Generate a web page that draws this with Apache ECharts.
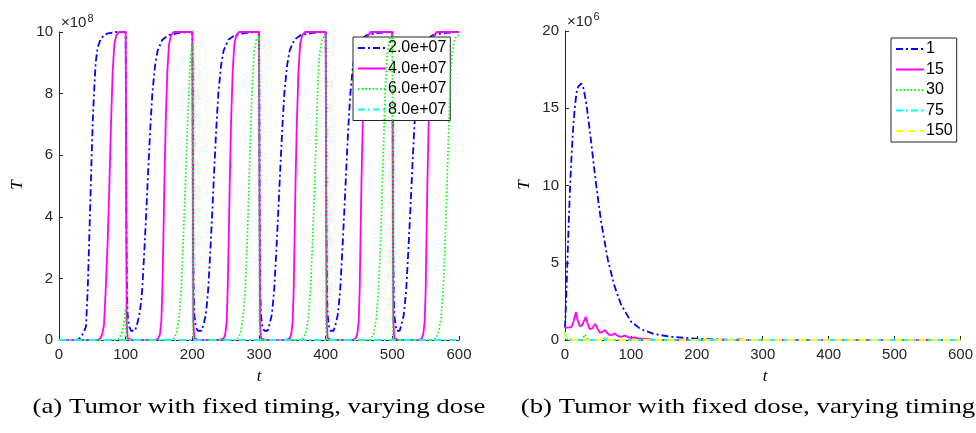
<!DOCTYPE html>
<html><head><meta charset="utf-8">
<script src="https://cdn.jsdelivr.net/npm/echarts@6/dist/echarts.min.js"></script>
<style>html,body{margin:0;padding:0;background:#fff}#c{width:976px;height:433px}</style>
</head><body><div id="c"></div><script>
// ---------- data ----------
const doseNames = ['2.0e+07', '4.0e+07', '6.0e+07', '8.0e+07'];
const timingNames = ['1', '15', '30', '75', '150'];
const xTicks = [0, 100, 200, 300, 400, 500, 600];
const yTicksA = [0, 2, 4, 6, 8, 10];
const yTicksB = [0, 5, 10, 15, 20];

// (a) T (x1e8) vs t, fixed timing, varying dose
const tumorDose2e7 = [
  [0,0],[25,0],[30,0.03],[34,0.12],[37,0.25],[40.5,0.43],[43,1.6],[45,3],[47,4.5],[49,6],[51,7.3],[53,8.2],[55,9.0],[58,9.5],[63,9.8],[72,9.95],[85,10],[100,10],
  [100.5,8],[101,4],[102,1.5],[103,0.8],[105,0.45],[108,0.3],[111,0.24],[114,0.3],[117,0.5],[120,0.76],[123,1.2],[125,1.7],[128,2.9],[131,4.2],[134,5.6],[137,6.9],[140,8.0],[144,8.9],[148,9.4],[155,9.75],[165,9.9],[180,9.97],[200,10],
  [200.5,8],[201,4],[202,1.5],[203,0.8],[205,0.45],[208,0.3],[211,0.24],[214,0.3],[217,0.52],[220,0.8],[222,1.2],[224,1.7],[227,2.9],[230,4.2],[233,5.6],[236,6.9],[239,8.0],[243,8.9],[247,9.4],[254,9.75],[264,9.9],[280,9.97],[300,10],
  [300.5,8],[301,4],[302,1.5],[303,0.8],[305,0.45],[308,0.3],[310,0.24],[313,0.3],[316,0.52],[319,0.8],[321,1.2],[323,1.7],[326,2.9],[329,4.2],[332,5.6],[335,6.9],[338,8.0],[342,8.9],[346,9.4],[353,9.75],[363,9.9],[380,9.97],[400,10],
  [400.5,8],[401,4],[402,1.5],[403,0.8],[405,0.45],[407,0.3],[409,0.24],[412,0.3],[415,0.52],[418,0.8],[420,1.2],[422,1.7],[425,2.9],[428,4.2],[431,5.6],[434,6.9],[437,8.0],[441,8.9],[445,9.4],[452,9.75],[462,9.9],[480,9.97],[500,10],
  [500.5,8],[501,4],[502,1.5],[503,0.8],[505,0.45],[507,0.3],[508,0.24],[511,0.3],[514,0.52],[517,0.8],[519,1.2],[521,1.7],[524,2.9],[527,4.2],[530,5.6],[533,6.9],[536,8.0],[540,8.9],[544,9.4],[551,9.75],[561,9.9],[580,9.97],[600,10]
];
const tumorDose4e7 = [
  [0,0],[58,0],[62,0.05],[65,0.2],[67.5,0.5],[70,1.6],[73,3.2],[75.5,5],[78,7],[80.5,8.7],[83,9.6],[86,9.9],[90,10],[100,10],[100.7,5],[101.5,0.6],[103,0.05],[110,0],
  [145,0],[149,0.05],[151.5,0.2],[153.5,0.6],[155,1.6],[156.5,3.2],[158,5],[160,7],[162.5,8.7],[165,9.6],[168,9.9],[172,10],[200,10],[200.7,5],[201.5,0.6],[203,0.05],[210,0],
  [240,0],[247,0.05],[249.5,0.2],[251.5,0.6],[253,1.6],[254.5,3.2],[256,5],[258,7],[260.5,8.7],[263,9.6],[266,9.9],[270,10],[300,10],[300.7,5],[301.5,0.6],[303,0.05],[310,0],
  [340,0],[346,0.05],[348.5,0.2],[350.5,0.6],[352,1.6],[353.3,3.2],[354.7,5],[356.7,7],[359.2,8.7],[361.7,9.6],[364.7,9.9],[369,10],[400,10],[400.7,5],[401.5,0.6],[403,0.05],[410,0],
  [440,0],[445,0.05],[447.5,0.2],[449.5,0.6],[451,1.6],[452.2,3.2],[453.6,5],[455.6,7],[458,8.7],[460.5,9.6],[463.5,9.9],[468,10],[500,10],[500.7,5],[501.5,0.6],[503,0.05],[510,0],
  [540,0],[544,0.05],[546.5,0.2],[548.5,0.6],[550,1.6],[551.2,3.2],[552.5,5],[554.5,7],[557,8.7],[559.5,9.6],[562.5,9.9],[567,10],[600,10]
];
const tumorDose6e7 = [
  [0,0],[88,0],[91,0.05],[94,0.2],[96.5,0.45],[98.5,0.75],[100,1.08],[100.8,0],
  [168,0],[172,0.05],[176,0.2],[180,0.7],[183.5,1.7],[186.5,3.3],[189.5,5],[192.5,6.8],[195.5,8.4],[198,9.3],[200,9.6],[200.8,0],
  [264,0],[268,0.05],[272,0.2],[276,0.7],[279.5,1.7],[282.5,3.3],[285,5],[287.5,6.8],[290,8.4],[292.5,9.3],[296,9.75],[300,9.85],[300.8,0],
  [362,0],[366,0.05],[370,0.2],[374,0.7],[377.5,1.7],[380.5,3.3],[383.5,5],[386,6.8],[388.5,8.4],[391,9.3],[395,9.8],[400,9.9],[400.8,0],
  [464,0],[468,0.05],[472,0.2],[476,0.7],[479.5,1.7],[482.5,3.3],[485,5],[487.5,6.8],[490,8.4],[492.5,9.3],[496,9.8],[500,9.9],[500.8,0],
  [561,0],[565,0.05],[569,0.2],[573,0.7],[576.5,1.7],[579.5,3.3],[582,5],[584.5,6.8],[587,8.4],[589.5,9.3],[594,9.8],[600,9.9]
];
const tumorDose8e7 = [[0,0],[600,0]];

// (b) T (x1e6) vs t, fixed dose, varying timing
const tumorTiming1 = [
  [0,0.8],[2,3],[4,5.5],[6,8],[8,10.2],[10,12],[12.5,13.8],[15,15.1],[17.5,16],[20,16.4],[25,16.6],[28,16.3],[32,15.4],[36,14.1],[40,12.7],[44,11.2],[48,9.8],[55,7.6],[65,5.2],[75,3.5],[85,2.3],[100,1.2],[115,0.7],[135,0.39],[160,0.21],[200,0.08],[240,0.025],[300,0.005],[600,0]
];
const tumorTiming15 = [
  [0,0.8],[5,0.8],[10,0.85],[13,1.2],[16.5,1.8],[19,1.3],[22.5,0.9],[26,0.95],[28.5,1.2],[31.5,1.5],[34,1.1],[37.5,0.7],[41,0.75],[43.5,0.9],[46,1.04],[49,0.75],[52.5,0.5],[56,0.5],[58.5,0.58],[61,0.65],[64,0.45],[67.5,0.32],[71,0.33],[76,0.43],[79,0.3],[82.5,0.22],[86,0.22],[91,0.28],[94,0.19],[97.5,0.15],[101,0.15],[106,0.17],[110,0.1],[121,0.07],[135,0.03],[160,0.01],[200,0],[600,0]
];
const tumorTiming30 = [
  [0,0.55],[1.5,0.25],[3,0.05],[5,0],[26,0],[28,0.1],[30,0.35],[31.5,0.43],[33,0.2],[35,0],[57,0],[59,0.08],[61,0.17],[63,0.05],[65,0],[600,0]
];
const tumorTiming75 = [[0,0.5],[1.5,0.15],[3,0],[600,0]];
const tumorTiming150 = [[0,0.5],[1.5,0.15],[3,0],[600,0]];

// ---------- styling ----------
const AX = '#262626';
const SANS = '"Liberation Sans", Arial, sans-serif';
const SERIF = '"Liberation Serif", "DejaVu Serif", serif';
const DASHDOT = [7, 3, 2, 3];
const DOT = [1.5, 2.2];
const DASH = [7, 5];

function mkX(gi) {
  return {
    type: 'value', gridIndex: gi, min: xTicks[0], max: xTicks[xTicks.length - 1], interval: 100,
    axisLine: { show: true, onZero: false, lineStyle: { color: AX, width: 1 } },
    axisTick: { show: true, inside: true, length: 4, lineStyle: { color: AX } },
    axisLabel: { color: AX, fontSize: 15, fontFamily: SANS, margin: 7, showMaxLabel: true, showMinLabel: true },
    splitLine: { show: false }
  };
}
function mkY(gi, ticks) {
  return {
    type: 'value', gridIndex: gi, min: ticks[0], max: ticks[ticks.length - 1], interval: ticks[1] - ticks[0],
    axisLine: { show: true, onZero: false, lineStyle: { color: AX, width: 1 } },
    axisTick: { show: true, inside: true, length: 4, lineStyle: { color: AX } },
    axisLabel: { color: AX, fontSize: 15, fontFamily: SANS, margin: 6 },
    splitLine: { show: false }
  };
}
function line(name, gi, data, color, type, z, w) {
  return {
    type: 'line', name: name, xAxisIndex: gi, yAxisIndex: gi, data: data,
    symbol: 'none', clip: false, z: z, animation: false,
    lineStyle: { color: color, width: w || 1.8, type: type },
    itemStyle: { color: color }
  };
}
function legendBox(names, left, top) {
  return {
    data: names, orient: 'vertical', left: left, top: top,
    itemWidth: 28, itemHeight: 12, itemGap: 4.5, padding: [3, 4, 3, 4],
    borderColor: AX, borderWidth: 1, backgroundColor: '#fff', selectedMode: false,
    itemStyle: { opacity: 0 },
    textStyle: { fontSize: 16, color: '#000', fontFamily: SANS, lineHeight: 16, padding: [0, 0, 0, -3] }
  };
}

const option = {
  backgroundColor: '#fff',
  animation: false,
  grid: [
    { left: 59, top: 32, width: 400, height: 308 },
    { left: 565, top: 31, width: 400, height: 309 }
  ],
  xAxis: [mkX(0), mkX(1)],
  yAxis: [mkY(0, yTicksA), mkY(1, yTicksB)],
  legend: [legendBox(doseNames, 353, 37), legendBox(timingNames, 891, 38)],
  series: [
    line(doseNames[0], 0, tumorDose2e7, '#0000ff', DASHDOT, 2),
    line(doseNames[1], 0, tumorDose4e7, '#ff00ff', 'solid', 3),
    line(doseNames[2], 0, tumorDose6e7, '#00ff00', DOT, 4),
    line(doseNames[3], 0, tumorDose8e7, '#00ffff', DASHDOT, 5, 2.2),
    line(timingNames[0], 1, tumorTiming1, '#0000ff', DASHDOT, 2),
    line(timingNames[1], 1, tumorTiming15, '#ff00ff', 'solid', 3),
    line(timingNames[2], 1, tumorTiming30, '#00ff00', DOT, 4),
    line(timingNames[3], 1, tumorTiming75, '#00ffff', DASHDOT, 5),
    line(timingNames[4], 1, tumorTiming150, '#ffff00', DASH, 6)
  ],
  graphic: [
    { type: 'text', x: 61, y: 30, style: { text: '×10', font: '15px ' + SANS, fill: AX, textAlign: 'left', textVerticalAlign: 'bottom' } },
    { type: 'text', x: 87.5, y: 24, style: { text: '8', font: '11px ' + SANS, fill: AX, textAlign: 'left', textVerticalAlign: 'bottom' } },
    { type: 'text', x: 567, y: 29, style: { text: '×10', font: '15px ' + SANS, fill: AX, textAlign: 'left', textVerticalAlign: 'bottom' } },
    { type: 'text', x: 593.5, y: 22, style: { text: '6', font: '11px ' + SANS, fill: AX, textAlign: 'left', textVerticalAlign: 'bottom' } },
    { type: 'text', x: 18, y: 185, rotation: Math.PI / 2, style: { text: 'T', font: 'italic 17px ' + SERIF, fill: '#000', textAlign: 'center', textVerticalAlign: 'middle' } },
    { type: 'text', x: 525, y: 185, rotation: Math.PI / 2, style: { text: 'T', font: 'italic 17px ' + SERIF, fill: '#000', textAlign: 'center', textVerticalAlign: 'middle' } },
    { type: 'text', x: 259, y: 377, style: { text: 't', font: 'italic 17px ' + SERIF, fill: '#000', textAlign: 'center', textVerticalAlign: 'middle' } },
    { type: 'text', x: 765, y: 377, style: { text: 't', font: 'italic 17px ' + SERIF, fill: '#000', textAlign: 'center', textVerticalAlign: 'middle' } },
    { type: 'text', x: 259, y: 407, scaleX: 1.22, style: { text: '(a) Tumor with fixed timing, varying dose', font: '22px ' + SERIF, fill: '#000', textAlign: 'center', textVerticalAlign: 'middle' } },
    { type: 'text', x: 748, y: 407, scaleX: 1.22, style: { text: '(b) Tumor with fixed dose, varying timing', font: '22px ' + SERIF, fill: '#000', textAlign: 'center', textVerticalAlign: 'middle' } }
  ]
};
const chart = echarts.init(document.getElementById('c'), null, { renderer: 'canvas' });
chart.setOption(option);
</script></body></html>
